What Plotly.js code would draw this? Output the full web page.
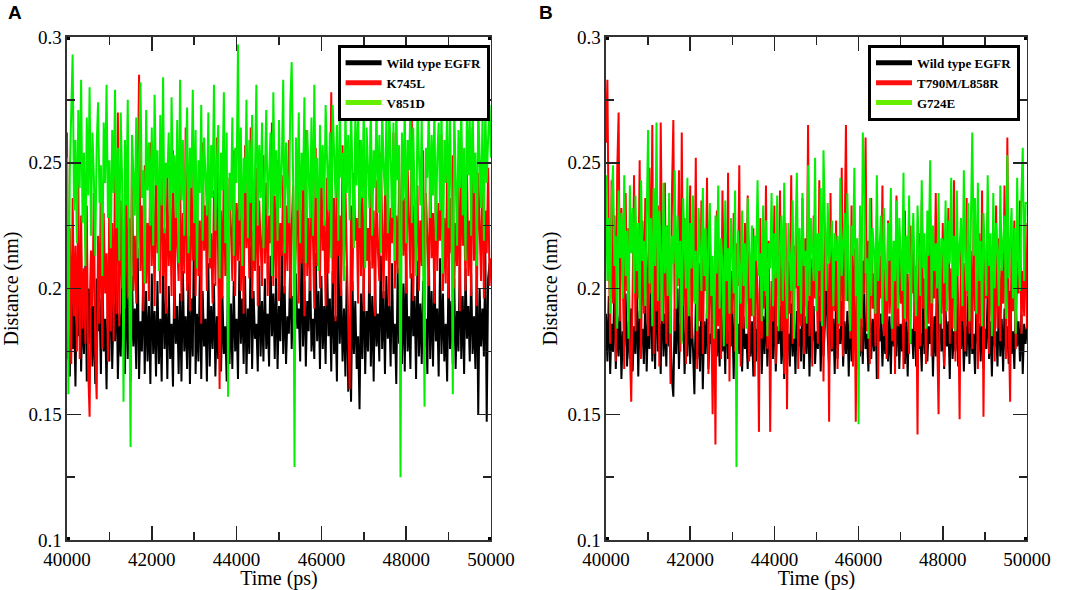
<!DOCTYPE html>
<html>
<head>
<meta charset="utf-8">
<script src="https://cdn.plot.ly/plotly-3.0.1.min.js"></script>
<style>
body { margin: 0; background: #fff; }
#chart { width: 1065px; height: 590px; }
</style>
</head>
<body>
<div id="chart"></div>
<script>
// distances, in pm (divided by 1000 -> nm)
// samples are evenly spaced from 40000 to 50000 ps
var t_start = 40000, t_end = 50000;

// panel A
var wtA = [
172,198,165,206,176,190,161,203,181,212,167,195,174,209,163,200,178,215,169,193,
162,204,183,196,166,211,175,188,160,201,171,214,168,194,179,207,164,190,173,202,
181,166,210,172,197,163,205,177,192,168,216,164,187,175,208,166,199,171,193,162,
206,174,191,165,203,170,188,163,212,176,195,164,201,172,186,161,209,178,193,166,
198,163,207,175,189,168,204,162,196,173,235,166,190,171,206,164,199,177,188,163,
210,169,193,176,202,165,189,172,214,167,197,174,185,163,208,170,194,168,203,175,
188,164,211,178,196,170,205,166,192,174,217,168,199,180,186,167,209,173,195,171,
204,176,190,169,213,181,198,172,207,168,193,179,215,174,201,170,189,182,211,176,
197,173,206,184,192,171,218,177,203,169,195,183,210,175,188,172,214,179,199,168,
205,176,193,170,212,181,196,167,207,174,189,163,216,178,200,171,192,165,209,159,
187,155,203,174,195,168,181,152,198,172,206,166,191,175,211,169,197,163,204,177,
190,171,213,176,199,166,205,180,193,169,210,174,186,162,208,178,196,170,202,167,
214,175,189,168,206,181,197,164,211,173,194,170,203,177,188,166,215,172,199,169,
207,179,192,165,212,174,198,171,186,163,209,176,195,170,204,168,191,175,213,172,
197,166,208,180,193,171,206,174,189,168,211,150,200,177,192,173,215,147,204,210,
205];
var k745L = [
262,181,224,170,236,189,217,175,243,172,229,184,208,178,233,168,149,215,193,238,
175,156,221,186,247,176,230,198,214,171,241,183,226,179,252,190,270,185,235,200,
218,192,245,196,228,187,256,199,221,194,239,285,207,233,191,249,202,226,195,258,
209,237,193,250,214,229,198,262,205,224,190,244,209,232,197,255,188,238,217,203,
247,195,230,206,264,199,221,191,253,211,236,197,242,205,227,186,258,215,233,199,
248,208,222,194,239,201,260,213,160,231,196,251,205,226,192,244,219,203,255,197,
234,211,246,199,228,190,257,216,238,204,264,196,223,207,248,193,235,219,201,253,
210,242,197,229,218,266,201,237,204,251,195,226,213,245,198,233,207,259,196,224,
241,203,217,254,194,232,210,247,189,263,205,228,199,238,221,192,256,209,235,200,
249,215,227,193,244,206,232,278,202,236,187,252,213,229,197,257,204,240,217,195,
160,233,199,246,219,228,194,259,205,237,191,250,211,224,198,265,208,231,189,243,
215,203,254,226,196,238,211,247,193,232,218,262,200,229,206,244,194,256,213,236,
198,249,222,204,268,195,233,216,241,199,227,209,255,192,238,220,201,251,212,230,
194,245,207,234,219,261,199,228,202,247,196,236,214,253,200,226,209,242,191,258,
217,233,199,249,205,227,197,264,211,238,193,246,220,203,255,196,231,214,248,201,
212];
var v851D = [
252,158,247,266,293,231,259,218,271,240,283,226,254,209,268,237,280,221,262,245,
213,257,274,234,249,205,266,242,281,228,251,216,263,238,279,224,256,211,270,243,
155,259,233,275,219,137,261,247,229,268,212,254,282,236,247,202,271,239,258,225,
264,217,277,241,255,207,269,233,284,222,250,244,262,215,276,238,253,228,267,210,
283,235,259,221,247,272,214,256,240,279,226,263,208,251,238,273,219,260,245,229,
270,212,257,236,281,223,249,265,204,254,239,278,218,262,157,246,231,268,213,256,
242,297,227,264,209,252,238,275,220,259,234,269,211,247,281,225,257,236,266,216,
250,271,229,244,262,205,278,237,255,219,267,232,249,283,214,258,241,226,273,290,
243,129,260,231,270,218,254,239,276,210,263,247,228,268,221,281,236,252,207,265,
240,257,225,273,246,231,262,212,273,249,236,265,219,273,244,254,203,273,238,261,
227,273,250,216,268,241,273,224,259,236,273,208,264,247,232,273,221,255,240,273,
230,261,214,273,248,237,269,222,273,253,228,266,211,273,243,257,125,262,235,273,
218,259,247,273,226,264,239,205,273,251,233,268,215,153,256,244,273,228,261,237,
273,219,252,266,231,273,206,259,242,273,224,268,236,158,273,249,217,263,240,273,
229,256,211,273,245,267,221,273,238,254,209,273,247,232,268,219,273,242,260,273,
252];

// panel B
var wtB = [
190,171,197,166,186,175,201,168,189,173,194,164,183,177,198,169,187,172,192,167,
185,174,199,165,191,178,184,170,196,167,188,176,208,171,193,168,212,175,186,166,
205,173,190,169,198,177,184,164,157,192,174,200,168,186,179,195,166,183,173,197,
170,189,176,158,194,172,185,167,199,160,187,174,193,168,182,178,197,165,190,173,
184,169,196,175,188,166,201,172,183,177,191,164,195,170,186,174,199,167,189,176,
182,168,194,173,187,165,198,171,184,179,192,166,189,174,197,169,183,176,190,172,
196,167,185,178,193,170,188,164,199,175,182,169,194,173,187,166,191,177,184,171,
198,168,189,174,195,165,186,179,193,170,183,176,197,167,190,173,186,207,181,169,
192,175,188,166,199,172,184,178,195,169,187,174,191,165,196,171,183,177,189,168,
194,173,185,170,198,176,182,167,193,172,188,175,196,164,184,179,190,169,186,174,
197,171,189,166,192,177,183,173,199,168,186,175,194,170,187,165,191,178,184,172,
195,169,188,176,182,167,198,174,190,171,185,178,193,165,189,173,213,170,196,175,
184,168,191,177,187,164,199,172,183,175,194,169,188,176,192,167,185,173,197,170,
189,174,182,166,195,178,186,171,193,168,184,176,198,172,187,165,191,177,183,169,
196,173,188,167,192,175,185,170,199,174,183,168,194,177,187,171,190,166,186,178,
185];
var t790M = [
258,283,216,178,243,194,229,171,247,270,187,232,205,168,238,199,224,176,155,212,
245,183,219,196,251,172,227,190,236,207,181,248,198,265,174,220,191,233,169,266,
209,186,242,178,225,197,162,238,267,183,214,201,247,175,262,193,228,170,219,204,
241,180,223,195,252,168,210,187,235,174,216,199,244,166,227,192,150,205,138,231,
185,213,172,239,196,221,178,246,163,207,190,230,175,218,201,249,169,212,184,226,
194,237,171,208,189,224,165,215,198,143,228,180,206,192,241,176,219,143,203,187,
233,170,214,197,239,183,208,166,226,152,211,190,245,178,217,200,231,168,209,185,
236,174,220,193,265,181,212,169,229,196,205,178,243,187,218,163,226,199,210,147,
238,176,215,191,227,168,209,185,248,173,221,265,195,207,180,233,169,216,147,202,
189,224,175,211,198,260,183,219,170,236,192,206,177,229,164,213,196,241,181,208,
172,227,190,215,179,203,166,237,185,220,194,211,168,231,187,206,174,225,198,216,
183,209,142,222,177,235,192,204,170,218,186,229,173,213,196,238,181,150,207,190,
226,169,214,195,232,178,208,184,243,171,219,193,148,224,187,210,175,236,199,182,
215,176,228,191,206,168,222,185,239,149,212,196,230,174,217,189,205,171,233,184,
220,179,208,194,241,172,260,186,155,218,191,227,176,211,198,235,182,207,189,226,
184];
var g724E = [
245,203,228,190,234,249,209,221,184,239,212,230,196,245,205,223,180,241,214,232,
198,237,207,226,188,243,211,219,193,235,263,202,228,185,240,209,266,195,231,214,
187,242,206,225,197,238,182,221,210,247,192,229,204,219,178,236,213,200,244,189,
226,208,237,194,215,183,232,211,199,240,205,224,188,218,234,197,213,180,229,206,
241,192,220,209,177,235,203,216,190,228,212,198,239,129,223,207,194,231,201,218,
184,236,210,196,225,189,221,211,243,205,214,187,233,199,227,181,218,208,238,193,
222,204,237,183,216,229,195,242,207,188,226,212,199,235,180,219,246,201,224,190,
238,209,215,186,249,197,228,214,203,252,191,222,207,240,185,255,218,199,234,210,
216,227,193,222,211,221,186,244,205,216,230,195,238,209,183,225,213,248,197,220,
146,233,188,262,242,206,212,180,236,197,224,215,190,245,203,217,229,186,232,208,
195,226,211,240,184,219,203,235,192,228,214,199,246,188,221,206,237,178,215,230,
204,189,233,216,197,243,208,222,184,231,213,251,194,225,207,218,200,238,186,220,
219,202,235,191,227,210,244,196,221,183,239,205,216,228,193,247,211,199,234,187,
225,262,213,236,190,242,203,219,185,230,214,197,245,209,222,181,238,200,226,215,
193,241,207,218,229,188,253,204,216,232,196,224,182,244,210,199,237,256,203,234,
234];

var namesA = ["Wild type EGFR", "K745L", "V851D"];
var namesB = ["Wild type EGFR", "T790M/L858R", "G724E"];
var colors = ["#000000", "#ff0000", "#00f000"];
var legendColors = ["#000000", "#ff1010", "#66f000"];

var serif = "Liberation Serif";

function series(vals, xa, ya, color) {
    var x = [], y = [];
    var n = vals.length;
    for (var i = 0; i < n; i++) {
        x.push(t_start + i * (t_end - t_start) / (n - 1));
        y.push(vals[i] / 1000);
    }
    return {
        x: x, y: y, xaxis: xa, yaxis: ya,
        type: "scatter", mode: "lines",
        line: {color: color, width: 2},
        showlegend: false, hoverinfo: "skip"
    };
}

// empty traces only used for the thick legend samples
function legendItem(name, color, legendId) {
    return {
        x: [null], y: [null], type: "scatter", mode: "lines",
        name: name, line: {color: color, width: 5},
        legend: legendId, showlegend: true
    };
}

var data = [
    series(wtA, "x", "y", colors[0]),
    series(k745L, "x", "y", colors[1]),
    series(v851D, "x", "y", colors[2]),
    series(wtB, "x2", "y2", colors[0]),
    series(t790M, "x2", "y2", colors[1]),
    series(g724E, "x2", "y2", colors[2])
];
for (var k = 0; k < 3; k++) {
    data.push(legendItem(namesA[k], legendColors[k], "legend"));
}
for (var k = 0; k < 3; k++) {
    var it = legendItem(namesB[k], legendColors[k], "legend2");
    it.xaxis = "x2"; it.yaxis = "y2";
    data.push(it);
}

function xAxis(dom, anchor) {
    return {
        domain: dom, anchor: anchor,
        range: [40000, 50000], tick0: 40000, dtick: 2000, tickformat: "d",
        ticks: "inside", ticklen: 14, tickwidth: 1.5, tickcolor: "#222",
        minor: {dtick: 1000, ticks: "inside", ticklen: 8, tickwidth: 1.5, tickcolor: "#222"},
        showline: true, mirror: "allticks", linecolor: "#333", linewidth: 1.5,
        showgrid: false, zeroline: false, ticklabelstandoff: 2,
        tickfont: {family: serif, size: 19, color: "#000"},
        title: {text: "Time (ps)", font: {family: serif, size: 20, color: "#000"}, standoff: 2}
    };
}

function yAxis(anchor) {
    return {
        domain: [0.0847, 0.9373], anchor: anchor,
        range: [0.1, 0.3], tick0: 0.1, dtick: 0.05,
        ticks: "inside", ticklen: 14, tickwidth: 1.5, tickcolor: "#222",
        minor: {dtick: 0.025, ticks: "inside", ticklen: 8, tickwidth: 1.5, tickcolor: "#222"},
        showline: true, mirror: "allticks", linecolor: "#333", linewidth: 1.5,
        showgrid: false, zeroline: false,
        tickfont: {family: serif, size: 19, color: "#000"},
        title: {text: "Distance (nm)", font: {family: serif, size: 20, color: "#000"}, standoff: 4}
    };
}

function legendBox(xpos) {
    return {
        x: xpos, y: 0.924, xanchor: "left", yanchor: "top",
        bgcolor: "#fff", bordercolor: "#000", borderwidth: 3,
        font: {family: serif, size: 13, color: "#000", weight: "bold"},
        itemwidth: 36, tracegroupgap: 0
    };
}

// the little black squares grace puts on the frame corners
var shapes = [];
var corners = [[40000, 0.1], [40000, 0.3], [50000, 0.1], [50000, 0.3]];
var axPairs = [["x", "y"], ["x2", "y2"]];
for (var a = 0; a < axPairs.length; a++) {
    for (var c = 0; c < corners.length; c++) {
        shapes.push({
            type: "rect", xref: axPairs[a][0], yref: axPairs[a][1],
            xsizemode: "pixel", ysizemode: "pixel",
            xanchor: corners[c][0], yanchor: corners[c][1],
            x0: -3, x1: 3, y0: -3, y1: 3,
            fillcolor: "#000", line: {width: 0}
        });
    }
}

var layout = {
    width: 1065, height: 590,
    margin: {l: 0, r: 0, t: 0, b: 0, pad: 0},
    font: {family: serif, color: "#000"},
    paper_bgcolor: "#fff", plot_bgcolor: "#fff",
    xaxis: xAxis([0.0629, 0.4610], "y"),
    yaxis: yAxis("x"),
    xaxis2: xAxis([0.5690, 0.9643], "y2"),
    yaxis2: yAxis("x2"),
    legend: legendBox(0.317),
    legend2: legendBox(0.815),
    shapes: shapes,
    annotations: [
        {text: "<b>A</b>", xref: "paper", yref: "paper", x: 0.006, y: 1.0,
         xanchor: "left", yanchor: "top", showarrow: false,
         font: {family: "Liberation Sans", size: 19, color: "#000"}},
        {text: "<b>B</b>", xref: "paper", yref: "paper", x: 0.504, y: 1.0,
         xanchor: "left", yanchor: "top", showarrow: false,
         font: {family: "Liberation Sans", size: 19, color: "#000"}}
    ]
};

Plotly.newPlot("chart", data, layout, {displayModeBar: false, staticPlot: true});
</script>
</body>
</html>
